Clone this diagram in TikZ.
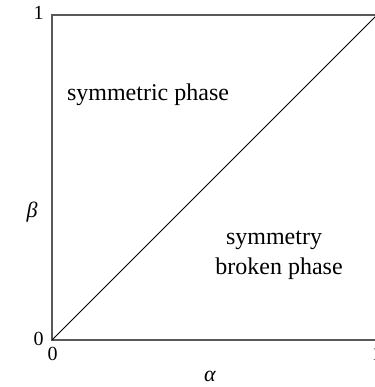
\documentclass[tikz,border=0pt]{standalone}
\usepackage{fontspec}
\setmainfont{Liberation Serif}
\begin{document}
\begin{tikzpicture}[x=1pt,y=1pt,
  frame/.style={draw=black!65,line width=1.1pt},
  diag/.style={draw=black,line width=0.8pt},
  lbl/.style={inner sep=0pt,font=\fontsize{24}{26}\selectfont,anchor=base},
  num/.style={inner sep=0pt,font=\fontsize{20}{22}\selectfont},
  greek/.style={inner sep=0pt,font=\fontsize{22}{24}\selectfont\itshape}]
\useasboundingbox (0,0) rectangle (374,387);
\coordinate (bl) at (52,47);
\coordinate (tl) at (52,372);
\coordinate (tr) at (377,372);
\coordinate (br) at (377,47);
\draw[frame] (tr) -- (tl) -- (bl) -- (br);
\draw[diag] (bl) -- (tr);
\node[num] (y1) at (38.5,374) {1};
\node[num] (y0) at (38.5,48) {0};
\node[num] (x0) at (52.5,33) {0};
\node[num] (x1) at (377,33) {1};
\node[greek] (beta) at (32,175) {β};
\node[greek] (alpha) at (210,11) {α};
\node[lbl] (sym) at (148,286) {symmetric phase};
\node[lbl] (brk1) at (274,142) {symmetry};
\node[lbl] (brk2) at (279,112) {broken phase};
\end{tikzpicture}
\end{document}
